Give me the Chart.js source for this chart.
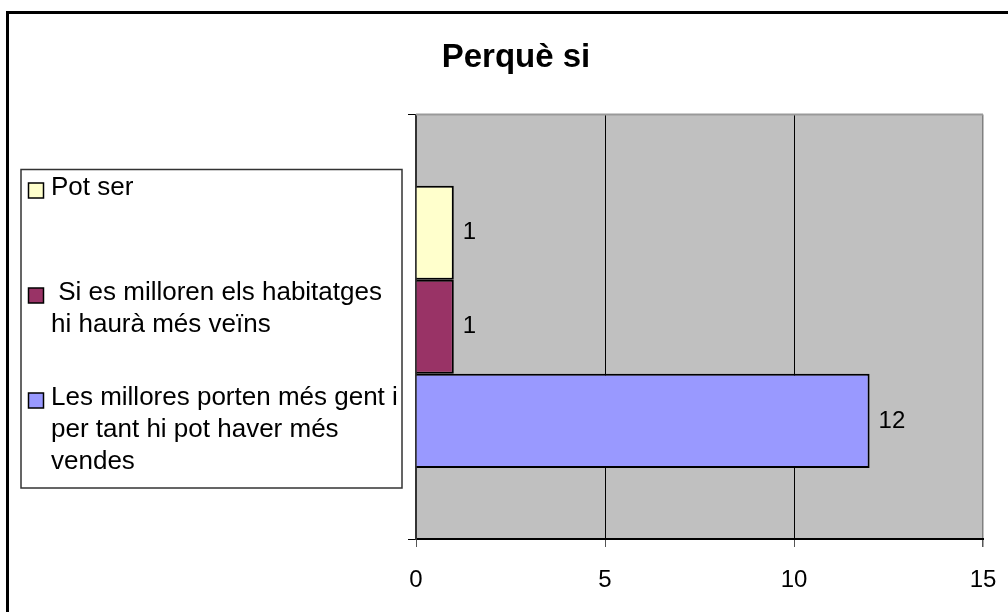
<!DOCTYPE html>
<html>
<head>
<meta charset="utf-8">
<script src="https://cdn.jsdelivr.net/npm/chart.js@4.4.1/dist/chart.umd.min.js"></script>
<style>
  html, body { margin: 0; padding: 0; background: #fff; }
  #chart { display: block; }
</style>
</head>
<body>
<canvas id="chart" width="1008" height="612"></canvas>
<script>
// chart data
const chartTitle = "Perquè si";
const categories = [""];
const seriesNames = [
  "Pot ser",
  " Si es milloren els habitatges hi haurà més veïns",
  "Les millores porten més gent i per tant hi pot haver més vendes"
];
// legend text as it wraps in the original legend box
const legendLines = [
  ["Pot ser"],
  [" Si es milloren els habitatges", "hi haurà més veïns"],
  ["Les millores porten més gent i", "per tant hi pot haver més", "vendes"]
];
const seriesValues = [[1], [1], [12]];
const seriesColors = ["#FFFFCC", "#993366", "#9999FF"];
const xTicks = [0, 5, 10, 15];

const FONT = "'Liberation Sans', Arial, sans-serif";

// frame, plot background and top border
const framePlugin = {
  id: "frame",
  beforeDraw(chart) {
    const ctx = chart.ctx;
    const a = chart.chartArea;
    ctx.save();
    ctx.fillStyle = "#fff";
    ctx.fillRect(0, 0, chart.width, chart.height);
    ctx.strokeStyle = "#000";
    ctx.lineWidth = 3;
    ctx.strokeRect(7.5, 12.5, 1200, 800);
    ctx.fillStyle = "#C0C0C0";
    ctx.fillRect(a.left, a.top, a.right - a.left, a.bottom - a.top);
    ctx.restore();
  },
  beforeDatasetsDraw(chart) {
    const ctx = chart.ctx;
    const a = chart.chartArea;
    ctx.save();
    ctx.strokeStyle = "#999";
    ctx.lineWidth = 2;
    ctx.beginPath();
    ctx.moveTo(a.left, a.top);
    ctx.lineTo(a.right, a.top);
    ctx.stroke();
    ctx.restore();
  }
};

// value labels next to bar ends
const valueLabels = {
  id: "valueLabels",
  afterDatasetsDraw(chart) {
    const ctx = chart.ctx;
    ctx.save();
    ctx.font = "24px " + FONT;
    ctx.fillStyle = "#000";
    ctx.textAlign = "left";
    ctx.textBaseline = "middle";
    chart.data.datasets.forEach((ds, i) => {
      chart.getDatasetMeta(i).data.forEach((bar, j) => {
        ctx.fillText(String(ds.data[j]), bar.x + 9, bar.y);
      });
    });
    ctx.restore();
  }
};

// boxed legend on the left, like the original
const boxLegend = {
  id: "boxLegend",
  afterDraw(chart) {
    const ctx = chart.ctx;
    ctx.save();
    ctx.fillStyle = "#fff";
    ctx.fillRect(21, 169, 381, 319);
    ctx.strokeStyle = "#333";
    ctx.lineWidth = 1.5;
    ctx.strokeRect(21, 169.5, 381, 318.5);
    ctx.font = "26px " + FONT;
    ctx.textAlign = "left";
    ctx.textBaseline = "middle";
    legendLines.forEach((lines, i) => {
      const y0 = 188 + i * 105;
      const ds = chart.data.datasets[i];
      ctx.fillStyle = ds.backgroundColor;
      ctx.fillRect(28.5, y0 - 5, 15, 15);
      ctx.strokeStyle = "#000";
      ctx.lineWidth = 1.5;
      ctx.strokeRect(28.5, y0 - 5, 15, 15);
      ctx.fillStyle = "#000";
      lines.forEach((t, k) => ctx.fillText(t, 51, y0 + k * 31.7));
    });
    ctx.restore();
  }
};

const datasets = seriesNames.map((name, i) => ({
  label: name,
  data: seriesValues[i],
  backgroundColor: seriesColors[i],
  borderColor: "#000",
  borderWidth: 2,
  categoryPercentage: 0.665,
  barPercentage: 1.0
}));

new Chart(document.getElementById("chart"), {
  type: "bar",
  data: { labels: categories, datasets: datasets },
  options: {
    indexAxis: "y",
    responsive: false,
    animation: false,
    layout: { padding: { left: 49, right: 25, top: 0, bottom: 0 } },
    plugins: {
      legend: { display: false },
      tooltip: { enabled: false },
      title: {
        display: true,
        text: chartTitle,
        color: "#000",
        font: { family: FONT, size: 33, weight: "bold" },
        padding: { top: 38, bottom: 37 }
      }
    },
    scales: {
      x: {
        type: "linear",
        min: xTicks[0],
        max: xTicks[xTicks.length - 1],
        afterBuildTicks(scale) {
          scale.ticks = xTicks.map(v => ({ value: v }));
        },
        afterFit(scale) {
          scale.height = 73;
          scale.paddingLeft = 0;
          scale.paddingRight = 0;
        },
        ticks: {
          color: "#000",
          font: { family: FONT, size: 24 },
          padding: 19
        },
        grid: {
          color: c => (c.tick && c.tick.value === 15 ? "#808080" : "#000"),
          lineWidth: c => (c.tick && c.tick.value === 15 ? 1.5 : 1),
          tickColor: "#555",
          tickLength: 8
        },
        border: { display: true, color: "#000", width: 2 }
      },
      y: {
        type: "category",
        offset: true,
        afterFit(scale) { scale.width = 367; },
        ticks: { display: false },
        grid: {
          offset: true,
          drawOnChartArea: false,
          color: "#000",
          tickLength: 8
        },
        border: { display: true, color: "#333", width: 2 }
      }
    }
  },
  plugins: [framePlugin, valueLabels, boxLegend]
});
</script>
</body>
</html>
